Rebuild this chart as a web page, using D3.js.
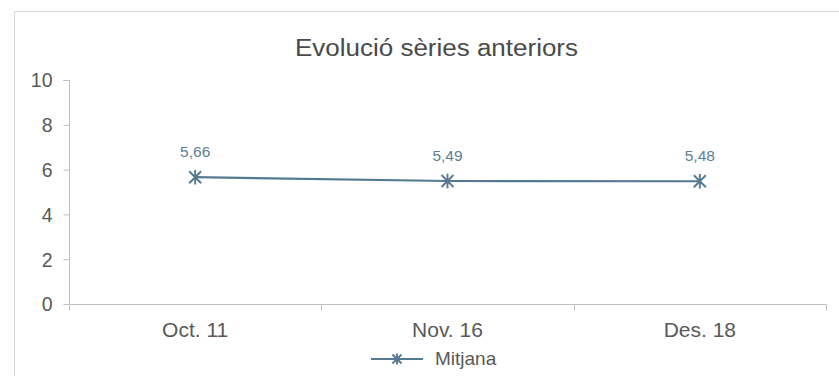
<!DOCTYPE html>
<html><head><meta charset="utf-8">
<script src="https://cdn.jsdelivr.net/npm/d3@7"></script>
<style>body{margin:0;background:#fff}svg{display:block;font-family:"Liberation Sans",Arial,sans-serif}</style>
</head><body>
<script>
const categories = ["Oct. 11", "Nov. 16", "Des. 18"];
const values = [5.66, 5.49, 5.48];
const valueLabels = ["5,66", "5,49", "5,48"];
const yTicks = [0, 2, 4, 6, 8, 10];
const seriesName = "Mitjana";
const title = "Evolució sèries anteriors";

const W = 839, H = 376;
const FF = '"Liberation Sans",Arial,sans-serif';
const svg = d3.select("body").append("svg").attr("width", W).attr("height", H);
svg.append("rect").attr("x", 14.5).attr("y", 11.5).attr("width", 840).attr("height", 400)
  .attr("fill", "#fff").attr("stroke", "#d9d9d9").attr("stroke-width", 1);

const x0 = 69, x1 = 826, yTop = 80, yBot = 304;
const x = d3.scaleBand().domain(categories).range([x0, x1]);
const y = d3.scaleLinear().domain([0, 10]).range([yBot, yTop]);
const col = "#537a91";

svg.append("text").attr("x", 436.5).attr("y", 56).attr("text-anchor", "middle")
  .attr("font-size", 23).attr("fill", "#4a4a4a")
  .attr("textLength", 283).attr("lengthAdjust", "spacingAndGlyphs").text(title);

// y axis
const ya = svg.append("g").attr("transform", `translate(${x0 + 0.5},0)`)
  .call(d3.axisLeft(y).tickValues(yTicks).tickSize(6).tickPadding(11).tickFormat(d3.format("d")));
ya.select(".domain").attr("stroke", "#bfbfbf").attr("d", `M-6,${yTop + 0.5}H0V${yBot + 0.5}`);
ya.selectAll(".tick line").attr("stroke", "#bfbfbf");
ya.selectAll(".tick").attr("transform", d => `translate(0,${y(d) + 0.5})`);
ya.attr("font-size", null).attr("font-family", null);
ya.selectAll("text").style("font-size", "19.5px").attr("fill", "#595959").style("font-family", FF).attr("dy", "0.35em");

// x axis
const xa = svg.append("g").attr("transform", `translate(0,${yBot + 0.5})`);
xa.append("line").attr("x1", x0).attr("x2", x1 + 0.5).attr("stroke", "#bfbfbf");
const bounds = categories.map(c => x(c)).concat([x1]);
xa.selectAll("line.tk").data(bounds).join("line").attr("class", "tk")
  .attr("x1", d => Math.round(d) + 0.5).attr("x2", d => Math.round(d) + 0.5)
  .attr("y1", 0).attr("y2", 6).attr("stroke", "#bfbfbf");
xa.selectAll("text").data(categories).join("text")
  .attr("x", d => x(d) + x.bandwidth() / 2).attr("y", 32.5).attr("text-anchor", "middle")
  .style("font-size", "21px").attr("fill", "#595959").text(d => d);

// line
const cx = i => x(categories[i]) + x.bandwidth() / 2;
svg.append("path").datum(values)
  .attr("d", d3.line().x((d, i) => cx(i)).y(d => y(d)))
  .attr("fill", "none").attr("stroke", col).attr("stroke-width", 2.2);

function star(g, px, py, s) {
  g.append("path").attr("d", `M${px - s},${py - s}L${px + s},${py + s}M${px - s},${py + s}L${px + s},${py - s}M${px},${py - s * 1.2}V${py + s * 1.2}`)
    .attr("stroke", col).attr("stroke-width", 1.9).attr("fill", "none");
}
values.forEach((v, i) => star(svg, cx(i), y(v), 6));

svg.selectAll("text.dl").data(values).join("text").attr("class", "dl")
  .attr("x", (d, i) => cx(i)).attr("y", d => y(d) - 20).attr("text-anchor", "middle")
  .style("font-size", "15.5px").attr("fill", "#5b7f95").text((d, i) => valueLabels[i]);

// legend
svg.append("line").attr("x1", 371).attr("x2", 423).attr("y1", 359).attr("y2", 359)
  .attr("stroke", col).attr("stroke-width", 2.2);
star(svg, 397, 359, 4.5);
svg.append("text").attr("x", 435).attr("y", 364.5).style("font-size", "19px").attr("fill", "#595959").text(seriesName);
</script>
</body></html>
